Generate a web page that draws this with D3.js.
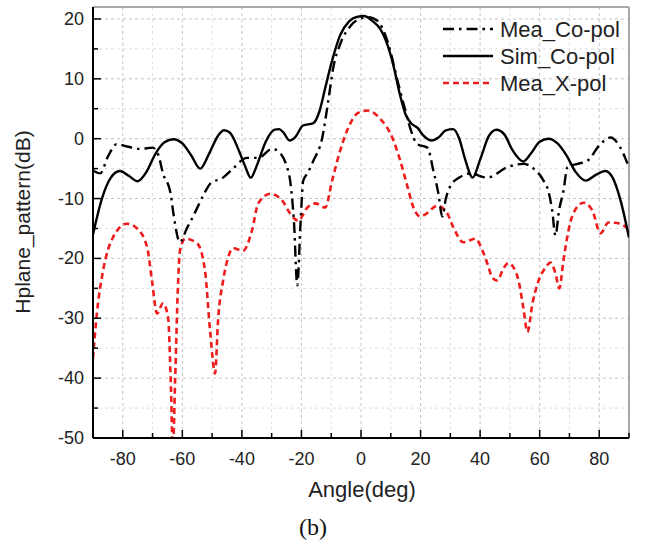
<!DOCTYPE html>
<html>
<head>
<meta charset="utf-8">
<script src="https://cdn.jsdelivr.net/npm/d3@7"></script>
<style>
  html, body { margin: 0; padding: 0; background: #fff; }
  svg { display: block; }
</style>
</head>
<body>
<svg id="chart" width="646" height="546"></svg>
<script>
// ---- Data ----
const simAngle = [-90,-87,-84,-81,-78,-75,-72,-69,-66,-63,-60,-57,-54,-51,-48,-46,-44,-41,-39,-37,-35,-32,-29,-27.5,-26,-24,-22,-19.5,-16,-14,-12,-10,-7,-4,-1,1,4,6.5,9,11,13,15,17,19,21,23.5,26,28.5,31,33,35,37.5,40,43,45.5,48,51,54.5,57,60,63,66,69,72,75.5,79,82,84.5,87,90];
const simDb    = [-16,-10,-6.5,-5.4,-6.2,-7.1,-5.5,-2.5,-0.6,-0.1,-0.8,-2.8,-5,-2.5,0.5,1.4,1,-2,-4.5,-6.5,-4.5,-0.5,1.5,1.6,1,-0.3,0.3,2.2,2.6,4.5,8.5,12.5,17.3,19.6,20.4,20.5,19.6,18.3,15.5,12,7.5,4,2.5,1.8,0.5,-0.3,0.2,1.4,1.6,0,-3.5,-6.5,-3.5,0.5,1.5,0.8,-2,-3.8,-2.5,-0.5,0,-0.8,-2.8,-5.5,-7,-6,-5.4,-6.5,-10,-16.5];

const meaCoAngle = [-90,-87.6,-85,-82,-78.6,-74,-70,-68,-66.5,-64,-63,-60.8,-58.5,-56.4,-53,-50.6,-46.3,-43,-38.3,-34.5,-29.8,-27,-25,-23.8,-22.5,-21.4,-20.3,-19.4,-18,-16,-13,-11,-9.3,-7,-3.6,0.8,2.5,5.5,9.2,12.5,14.9,16.5,18.9,22.3,24.3,26,27.3,28.5,29.9,33,36.7,42.4,49,54.5,58,61.3,62.9,64.2,65.3,66.5,68,69.3,72.7,76,80.4,83.8,87.1,90];
const meaCoDb    = [-5.3,-5.8,-3,-0.9,-1.3,-1.7,-1.5,-2.8,-5.8,-9,-12.5,-17.3,-15,-13,-9.5,-7.5,-6.5,-5,-3.2,-3.2,-1.7,-2.5,-4.5,-7,-14,-24.5,-14,-7,-5.8,-3.7,0.2,6.3,11.9,15.8,18.8,20.2,20.3,19.7,15.8,9.2,4.7,1.8,-0.9,-1.5,-5.3,-9.2,-13,-10,-8,-6.5,-5.8,-6.5,-4.8,-4.2,-5,-7,-8.7,-12,-16.2,-12,-8.7,-4.8,-4.2,-3.7,-0.9,0.2,-1.5,-4.8];

const xpolAngle = [-90,-88.7,-86.6,-83.3,-78.6,-75.2,-71.8,-70.2,-68.5,-66.5,-64.8,-63.8,-63.2,-62.4,-61.5,-60.8,-59,-55,-52.4,-50.7,-49,-48,-46.3,-44.6,-43,-39.6,-36.6,-34.5,-30.5,-26.5,-23.8,-21.1,-18,-15.4,-12,-9.7,-7,-4.3,-1,2,6.5,10.5,13.2,15.6,17.6,19.9,22,25.6,29,31,34.4,38.4,40.8,42.4,44.1,45.8,47.8,49.5,51.2,52.9,54.5,55.9,57.6,59.3,62,63.6,65.3,66.6,68,69.7,71.3,74.7,77.7,80.4,83.1,87.1,90];
const xpolDb    = [-36.7,-29.2,-22,-16.5,-14.2,-15,-18.2,-23.7,-29.2,-27.5,-29.8,-42,-52,-40,-25,-18.7,-16.7,-17.5,-22,-32,-39.2,-30.3,-23.7,-19.8,-18.3,-18.7,-15.3,-10.8,-9.2,-10.3,-12.5,-13.7,-11.5,-10.8,-11.5,-7,-2,1.8,4.3,4.7,3.3,0.2,-3.7,-8,-11.5,-13,-12.5,-11.2,-12.5,-14.8,-17.3,-16.7,-18.7,-20.8,-23.2,-23.7,-21.7,-20.8,-21.5,-23.7,-28.2,-32.3,-27.5,-24.2,-21.5,-20.7,-22.5,-25,-20.3,-15.3,-12.5,-10.7,-12,-15.8,-14,-14.2,-15.3];

const xTicks = [-80,-60,-40,-20,0,20,40,60,80];
const yTicks = [-50,-40,-30,-20,-10,0,10,20];
const seriesNames = ["Mea_Co-pol","Sim_Co-pol","Mea_X-pol"];

// ---- Layout ----
const svg = d3.select("#chart");
const L = 93, R = 629, T = 7, B = 438;
const x = d3.scaleLinear().domain([-90, 90]).range([L, R]);
const y = d3.scaleLinear().domain([-50, 22]).range([B, T]);
const font = "Arial, 'Liberation Sans', sans-serif";

// grid
const gx = d3.range(-90, 91, 10);
const gy = d3.range(-50, 21, 5);
svg.append("g").selectAll("line").data(gx.filter(v => v > -90 && v < 90)).join("line")
  .attr("x1", d => x(d)).attr("x2", d => x(d)).attr("y1", T).attr("y2", B)
  .attr("stroke", d => d % 20 === 0 ? "#c4c4c4" : "#dedede").attr("stroke-width", 1).attr("stroke-dasharray", "3,3");
svg.append("g").selectAll("line").data(gy.filter(v => v > -50)).join("line")
  .attr("x1", L).attr("x2", R).attr("y1", d => y(d)).attr("y2", d => y(d))
  .attr("stroke", d => d % 10 === 0 ? "#c4c4c4" : "#dedede").attr("stroke-width", 1).attr("stroke-dasharray", "3,3");

// top/right frame
svg.append("line").attr("x1", L).attr("x2", R).attr("y1", T).attr("y2", T).attr("stroke", "#a8a8a8").attr("stroke-width", 2);
svg.append("line").attr("x1", R).attr("x2", R).attr("y1", T).attr("y2", B).attr("stroke", "#a8a8a8").attr("stroke-width", 2);

// clip
svg.append("clipPath").attr("id", "clip").append("rect")
  .attr("x", L).attr("y", T).attr("width", R - L).attr("height", B - T);

const line = d3.line().x(d => x(d[0])).y(d => y(d[1])).curve(d3.curveMonotoneX);
const plot = svg.append("g").attr("clip-path", "url(#clip)");

const simData = simAngle.map((a, i) => [a, simDb[i]]);
const coData = meaCoAngle.map((a, i) => [a, meaCoDb[i]]);
const xpData = xpolAngle.map((a, i) => [a, xpolDb[i]]);

plot.append("path").datum(xpData).attr("d", line).attr("fill", "none")
  .attr("stroke", "#ee1c1c").attr("stroke-width", 2.6).attr("stroke-dasharray", "6,4");
plot.append("path").datum(simData).attr("d", line).attr("fill", "none")
  .attr("stroke", "#000").attr("stroke-width", 2.4);
plot.append("path").datum(coData).attr("d", line).attr("fill", "none")
  .attr("stroke", "#000").attr("stroke-width", 2.4).attr("stroke-dasharray", "11,5,2.5,5");

// axes
const xAxis = svg.append("g").attr("transform", `translate(0,${B})`);
xAxis.append("line").attr("x1", L).attr("x2", R).attr("stroke", "#000").attr("stroke-width", 2);
xAxis.selectAll(".maj").data(xTicks).join("line").attr("class", "maj")
  .attr("x1", d => x(d)).attr("x2", d => x(d)).attr("y1", 0).attr("y2", -8).attr("stroke", "#000").attr("stroke-width", 1.5);
xAxis.selectAll(".min").data(d3.range(-70, 90, 20).concat([90])).join("line").attr("class", "min")
  .attr("x1", d => x(d)).attr("x2", d => x(d)).attr("y1", 0).attr("y2", -5).attr("stroke", "#000").attr("stroke-width", 1.5);
xAxis.selectAll("text").data(xTicks).join("text")
  .attr("x", d => x(d)).attr("y", 27).attr("text-anchor", "middle")
  .attr("font-family", font).attr("font-size", 18).attr("fill", "#222").text(d => d);

const yAxis = svg.append("g").attr("transform", `translate(${L},0)`);
yAxis.append("line").attr("y1", T).attr("y2", B).attr("stroke", "#000").attr("stroke-width", 2);
yAxis.selectAll(".maj").data(yTicks).join("line").attr("class", "maj")
  .attr("x1", 0).attr("x2", 8).attr("y1", d => y(d)).attr("y2", d => y(d)).attr("stroke", "#000").attr("stroke-width", 1.5);
yAxis.selectAll(".min").data(d3.range(-45, 20, 10)).join("line").attr("class", "min")
  .attr("x1", 0).attr("x2", 5).attr("y1", d => y(d)).attr("y2", d => y(d)).attr("stroke", "#000").attr("stroke-width", 1.5);
yAxis.selectAll("text").data(yTicks).join("text")
  .attr("x", -9).attr("y", d => y(d) + 6).attr("text-anchor", "end")
  .attr("font-family", font).attr("font-size", 18).attr("fill", "#222").text(d => d);

// titles
svg.append("text").attr("x", 362).attr("y", 497).attr("text-anchor", "middle")
  .attr("font-family", font).attr("font-size", 22).attr("fill", "#222").text("Angle(deg)");
svg.append("text").attr("transform", "translate(30,222) rotate(-90)").attr("text-anchor", "middle")
  .attr("font-family", font).attr("font-size", 21).attr("fill", "#222").text("Hplane_pattern(dB)");
svg.append("text").attr("x", 313).attr("y", 535).attr("text-anchor", "middle")
  .attr("font-family", "'Liberation Serif', 'Times New Roman', serif").attr("font-size", 24).attr("fill", "#111").text("(b)");

// legend
const lg = svg.append("g");
const styles = [
  { stroke: "#000", dash: "11,5,2.5,5" },
  { stroke: "#000", dash: null },
  { stroke: "#ee1c1c", dash: "6,4" }
];
seriesNames.forEach((name, i) => {
  const cy = 29 + i * 27;
  lg.append("line").attr("x1", 443).attr("x2", 493).attr("y1", cy).attr("y2", cy)
    .attr("stroke", styles[i].stroke).attr("stroke-width", 2.6)
    .attr("stroke-dasharray", styles[i].dash);
  lg.append("text").attr("x", 500).attr("y", cy + 8)
    .attr("font-family", font).attr("font-size", 22).attr("fill", "#222").text(name);
});
</script>
</body>
</html>
